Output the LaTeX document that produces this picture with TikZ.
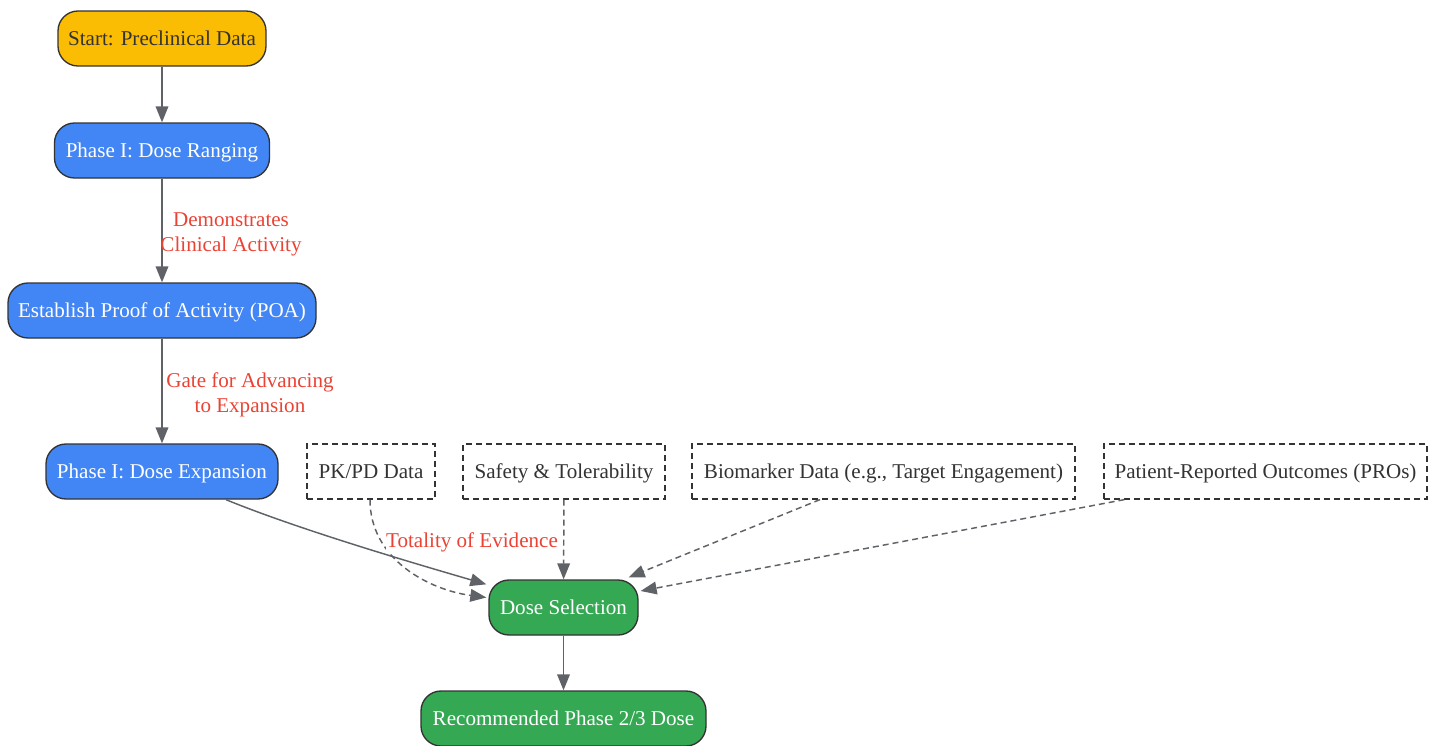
\documentclass[tikz,border=0pt]{standalone}
\usepackage{fontspec}
\setmainfont{Liberation Serif}
\usetikzlibrary{arrows.meta,calc}
\definecolor{yel}{HTML}{FBBC04}
\definecolor{blu}{HTML}{4285F4}
\definecolor{grn}{HTML}{34A853}
\definecolor{edgec}{HTML}{5F6368}
\definecolor{lblc}{HTML}{EA4335}
\definecolor{bord}{HTML}{333333}
\begin{document}
\begin{tikzpicture}[x=0.75pt,y=-0.75pt,
  txt/.style={font=\fontsize{15.8}{18.75}\selectfont},
  box/.style={txt, draw=bord, line width=1pt, rounded corners=15pt, minimum height=41.25pt, inner sep=0pt, text height=11pt, text depth=0pt},
  yelbox/.style={box, fill=yel, text=bord},
  blubox/.style={box, fill=blu, text=white},
  grnbox/.style={box, fill=grn, text=white},
  databox/.style={txt, draw=bord, line width=0.9pt, dash pattern=on 4.5pt off 3pt, minimum height=41.25pt, inner sep=0pt, text height=11pt, text depth=0pt, text=bord},
  flow/.style={draw=edgec, line width=1.1pt, -{Triangle[length=12pt,width=9.5pt]}},
  dflow/.style={flow, dash pattern=on 4.5pt off 3pt},
  lbl/.style={txt, text=lblc, align=center}]
\useasboundingbox (0,0) rectangle (1436,746);
\node[yelbox, minimum width=156pt] (start) at (162,38.5) {Start: Preclinical Data};
\node[blubox, minimum width=161.25pt] (rang) at (162,150.5) {Phase I: Dose Ranging};
\node[blubox, minimum width=231pt] (poa) at (162,310.5) {Establish Proof of Activity (POA)};
\node[blubox, minimum width=174pt] (exp) at (162,471.5) {Phase I: Dose Expansion};
\node[databox, minimum width=96pt] (pk) at (371,471.5) {PK/PD Data};
\node[databox, minimum width=151.5pt] (saf) at (564,471.5) {Safety \& Tolerability};
\node[databox, minimum width=287.25pt] (bio) at (883.5,471.5) {Biomarker Data (e.g., Target Engagement)};
\node[databox, minimum width=242.25pt] (pro) at (1265.5,471.5) {Patient-Reported Outcomes (PROs)};
\node[grnbox, minimum width=111.75pt] (ds) at (563.5,607.5) {Dose Selection};
\node[grnbox, minimum width=213.75pt] (rec) at (563.5,718.5) {Recommended Phase 2/3 Dose};

\draw[flow] (start) -- (rang);
\draw[flow] (rang) -- (poa);
\draw[flow] (poa) -- (exp);
\draw[flow] ($(exp.south)+(64,0)$) .. controls (300,530) and (420,565) .. ($(ds.north west)+(-2,5)$);
\draw[dflow] ($(pk.south)+(-1,0)$) .. controls (370,560) and (430,590) .. ($(ds.west)+(-2,-10)$);
\draw[dflow] (saf) -- (ds);
\draw[dflow] ($(bio.south)+(-63.5,0)$) -- ($(ds.north east)+(-10,-2)$);
\draw[dflow] ($(pro.south west)+(21,0)$) -- ($(ds.east)+(2,-16.5)$);
\draw[flow] (ds) -- (rec);

\node[lbl] (l1) at (231,234.5) {Demonstrates\\Clinical Activity};
\node[lbl] (l2) at (250,395) {Gate for Advancing\\to Expansion};
\node[lbl, fill=white, inner sep=0pt] (l3) at (472,542) {Totality of Evidence};
\end{tikzpicture}
\end{document}
